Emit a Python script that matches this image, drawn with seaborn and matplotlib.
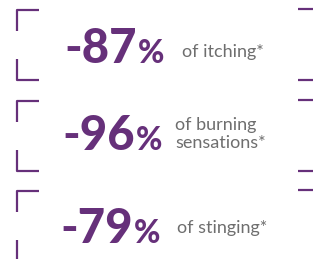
import matplotlib

matplotlib.use("Agg")
import matplotlib.pyplot as plt
import seaborn as sns

# valeurs affichees dans chaque panneau
values = [-87, -96, -79]
captions = ["of itching*", "of burning\nsensations*", "of stinging*"]

PURPLE = "#66307a"
GREY = "#6e6e6e"

# mise en page (pixels, origine en haut a gauche)
panel_tops = [10, 101, 191]
baselines = [63, 150, 243]
num_right = [137, 135, 133]
cap_left = [182, 175, 177]
cap_baseline = [57, 130, 233]
LINE_STEP = 18

sns.set_style("white")
plt.rcParams["font.family"] = ["Lato", "DejaVu Sans"]

fig = plt.figure(figsize=(3.13, 2.59), dpi=100)
ax = fig.add_axes([0, 0, 1, 1])
ax.set_xlim(0, 313)
ax.set_ylim(259, 0)
ax.axis("off")

lw = 1.6
for top in panel_tops:
    bottom = top + 70
    # coin haut gauche
    ax.plot([39, 17, 17], [top, top, top + 21], color=PURPLE, lw=lw, solid_capstyle="butt")
    # coin bas gauche
    ax.plot([17, 17, 39], [bottom - 21, bottom, bottom], color=PURPLE, lw=lw, solid_capstyle="butt")
    # bouts de droite (coupes par le bord)
    ax.plot([298, 320], [top - 1, top - 1], color=PURPLE, lw=lw, solid_capstyle="butt")
    ax.plot([298, 320], [bottom, bottom], color=PURPLE, lw=lw, solid_capstyle="butt")

for v, cap, base, xr, xc, cb in zip(values, captions, baselines, num_right, cap_left, cap_baseline):
    ax.text(xr, base, f"{v}", ha="right", va="baseline", fontsize=34,
            fontweight="black", color=PURPLE)
    ax.text(xr + 1, base, "%", ha="left", va="baseline", fontsize=23,
            fontweight="black", color=PURPLE)
    for i, line in enumerate(cap.split("\n")):
        ax.text(xc, cb + i * LINE_STEP, line, ha="left", va="baseline",
                fontsize=13, fontweight="normal", color=GREY)

fig.savefig("out.png", dpi=100)
